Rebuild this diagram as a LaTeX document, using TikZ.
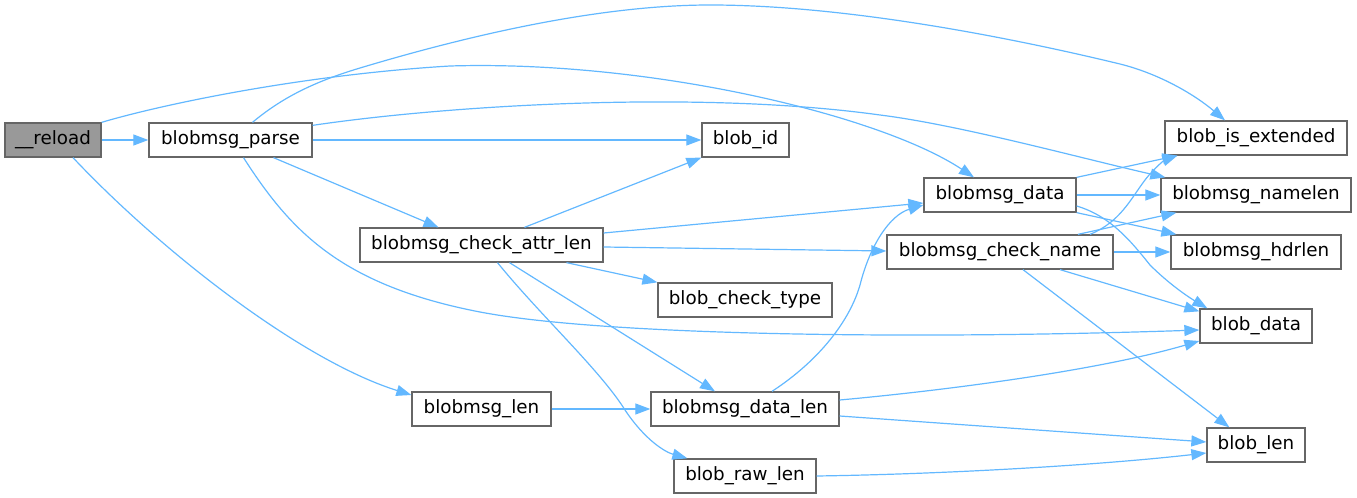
\documentclass[tikz,border=0pt]{standalone}
\usepackage{fontspec}
\setmainfont{DejaVu Sans}
\usetikzlibrary{arrows.meta,calc}
\definecolor{edgec}{HTML}{63B8FF}
\definecolor{boxc}{HTML}{666666}
\definecolor{hlc}{HTML}{999999}
\tikzset{
  fn/.style={draw=boxc, line width=1.3bp, fill=white, minimum height=34bp, inner sep=0pt,
    font=\fontsize{18.3bp}{22bp}\selectfont},
  hl/.style={fn, fill=hlc},
  edge/.style={draw=edgec, line width=1.2bp, -{Triangle[length=15bp,width=11bp]}}
}
\begin{document}
\begin{tikzpicture}[x=1bp,y=-1bp]
\useasboundingbox (0,0) rectangle (1357,498);
% nodes
\node[hl, minimum width=96bp]  (reload)   at (53,140)    {\_\_reload};
\node[fn, minimum width=163bp] (parse)    at (230.5,140) {blobmsg\_parse};
\node[fn, minimum width=87bp]  (bid)      at (745.5,140) {blob\_id};
\node[fn, minimum width=243bp] (cattr)    at (481.5,245) {blobmsg\_check\_attr\_len};
\node[fn, minimum width=174bp] (ctype)    at (745,300)   {blob\_check\_type};
\node[fn, minimum width=152bp] (bdata)    at (1000,195)  {blobmsg\_data};
\node[fn, minimum width=226bp] (cname)    at (1000,252)  {blobmsg\_check\_name};
\node[fn, minimum width=182bp] (bext)     at (1256,138)  {blob\_is\_extended};
\node[fn, minimum width=190bp] (namelen)  at (1256,195)  {blobmsg\_namelen};
\node[fn, minimum width=170bp] (hdrlen)   at (1256,252)  {blobmsg\_hdrlen};
\node[fn, minimum width=112bp] (blobdata) at (1256,326)  {blob\_data};
\node[fn, minimum width=139bp] (mlen)     at (481.5,409) {blobmsg\_len};
\node[fn, minimum width=188bp] (dlen)     at (745,409)   {blobmsg\_data\_len};
\node[fn, minimum width=142bp] (rawlen)   at (745,476)   {blob\_raw\_len};
\node[fn, minimum width=98bp]  (blen)     at (1256,445)  {blob\_len};
% edges
\draw[edge] (reload.east) -- (parse.west);
\draw[edge] (reload.north east) .. controls (160,105) and (300,75) .. (450,66)
  .. controls (650,60) and (880,115) .. ($(bdata.north)+(-26,0)$);
\draw[edge] ($(reload.south)+(20,0)$) .. controls (160,250) and (300,360) .. ($(mlen.west)+(0,-14)$);
\draw[edge] ($(parse.north)+(22,0)$) .. controls (285,95) and (320,80) .. (360,68)
  .. controls (470,35) and (600,5) .. (710,5)
  .. controls (840,5) and (1000,35) .. (1120,64)
  .. controls (1160,74) and (1195,95) .. ($(bext.north)+(-31,0)$);
\draw[edge] ($(parse.north east)+(0,3)$) .. controls (450,105) and (700,90) .. (880,115)
  .. controls (960,125) and (1080,158) .. ($(namelen.north west)+(5,0)$);
\draw[edge] (parse.east) -- (bid.west);
\draw[edge] ($(parse.south)+(43,0)$) -- ($(cattr.north)+(-43,0)$);
\draw[edge] ($(parse.south)+(13,0)$) .. controls (290,230) and (340,285) .. (480,312)
  .. controls (600,335) and (900,340) .. ($(blobdata.west)+(0,4)$);
\draw[edge] ($(cattr.north)+(43,0)$) -- (bid.south west);
\draw[edge] ($(cattr.east)+(0,-12)$) -- ($(bdata.west)+(0,8)$);
\draw[edge] ($(cattr.east)+(0,2)$) -- ($(cname.west)+(0,-1)$);
\draw[edge] ($(cattr.south)+(85,0)$) -- (ctype.north west);
\draw[edge] ($(cattr.south)+(28,0)$) -- ($(dlen.north)+(-30,0)$);
\draw[edge] ($(cattr.south)+(16,0)$) .. controls (540,315) and (600,370) .. (625,410)
  .. controls (645,440) and (665,452) .. ($(rawlen.north west)+(14,0)$);
\draw[edge] (bdata.north east) -- ($(bext.south west)+(13,0)$);
\draw[edge] (bdata.east) -- (namelen.west);
\draw[edge] (bdata.south east) -- ($(hdrlen.north west)+(6,0)$);
\draw[edge] ($(bdata.east)+(0,11)$) .. controls (1110,216) and (1130,240) .. (1150,265)
  .. controls (1170,285) and (1190,298) .. ($(blobdata.north west)+(8,0)$);
\draw[edge] ($(cname.north)+(90,0)$) .. controls (1120,222) and (1130,200) .. (1145,180)
  .. controls (1155,167) and (1165,160) .. ($(bext.south west)+(13,0)$);
\draw[edge] ($(cname.north)+(78,0)$) -- ($(namelen.south west)+(16,0)$);
\draw[edge] (cname.east) -- (hdrlen.west);
\draw[edge] ($(cname.south)+(60,0)$) -- ($(blobdata.north west)+(0,3)$);
\draw[edge] ($(cname.south)+(23,0)$) -- ($(blen.north west)+(23,0)$);
\draw[edge] (mlen.east) -- (dlen.west);
\draw[edge] ($(dlen.north)+(27,0)$) .. controls (820,360) and (850,320) .. (860,285)
  .. controls (870,245) and (890,215) .. ($(bdata.west)+(0,10)$);
\draw[edge] ($(dlen.east)+(0,-9)$) .. controls (950,390) and (1100,370) .. ($(blobdata.west)+(0,15)$);
\draw[edge] ($(dlen.east)+(0,7)$) -- ($(blen.west)+(0,-3)$);
\draw[edge] (rawlen.east) .. controls (950,474) and (1100,465) .. ($(blen.west)+(0,8)$);
\end{tikzpicture}
\end{document}
